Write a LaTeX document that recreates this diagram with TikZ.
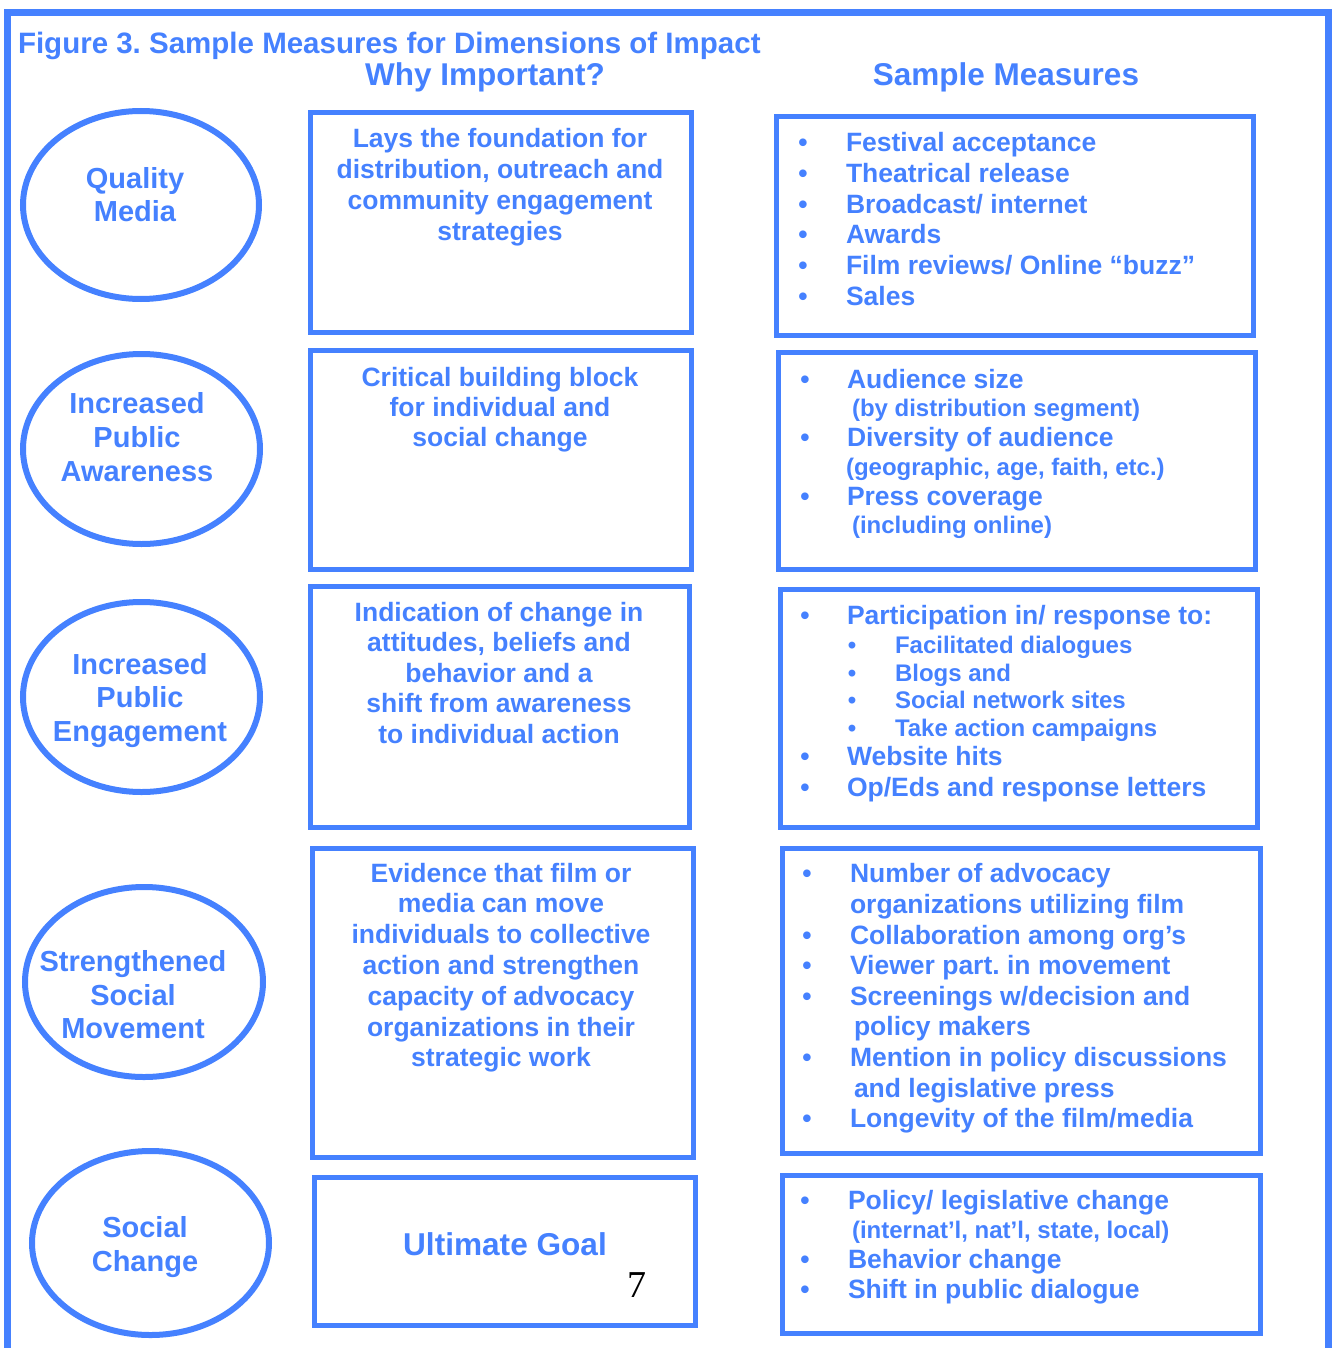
\documentclass[tikz,border=0pt]{standalone}
\usepackage{fontspec}
\setmainfont{Liberation Sans}
\newfontfamily\serifnum{Liberation Serif}
\usetikzlibrary{shapes.geometric}
\definecolor{mb}{RGB}{69,129,255}
\newcommand{\fsz}[1]{\fontsize{#1}{#1}\selectfont\bfseries}
\frenchspacing
\begin{document}
\begin{tikzpicture}[x=1pt,y=-1pt,
 ell/.style={draw=mb, line width=6pt, ellipse, inner sep=0pt, outer sep=0pt},
 box/.style={draw=mb, line width=5pt, rectangle, inner sep=0pt, outer sep=0pt},
 tx/.style={text=mb, inner sep=0pt, outer sep=0pt, anchor=base},
 big/.style={tx, font=\fsz{29}},
 mid/.style={tx, font=\fsz{26.5}},
 lt/.style={tx, anchor=base west, font=\fsz{26.5}},
 sm/.style={tx, anchor=base west, font=\fsz{24}},
 bu/.style={tx, font=\fsz{26.5}},
 sbu/.style={tx, font=\fsz{24}},
]
\useasboundingbox (0,0) rectangle (1332,1348);
% outer frame
\draw[mb, line width=7pt] (7,1352) -- (7,12.5) -- (1328.5,12.5) -- (1328.5,1352);

% headers
\node[tx, anchor=base west, font=\fsz{29.5}] (title) at (18,54) {Figure 3. Sample Measures for Dimensions of Impact};
\node[tx, font=\fsz{31.5}] (hwhy) at (485,86) {Why Important?};
\node[tx, font=\fsz{31.5}] (hsm) at (1006,86) {Sample Measures};

% ellipses
\node[ell, minimum width=236pt, minimum height=188pt] (e1) at (141,205) {};
\node[ell, minimum width=237pt, minimum height=190pt] (e2) at (141.5,449) {};
\node[ell, minimum width=237pt, minimum height=190pt] (e3) at (141.5,697) {};
\node[ell, minimum width=238pt, minimum height=190pt] (e4) at (144,982) {};
\node[ell, minimum width=237pt, minimum height=184pt] (e5) at (150.5,1243) {};

\node[big] (e1a) at (135,189) {Quality};
\node[big] (e1b) at (135,222) {Media};
\node[big] (e2a) at (137,413) {Increased};
\node[big] (e2b) at (137,447) {Public};
\node[big] (e2c) at (137,481) {Awareness};
\node[big] (e3a) at (140,674) {Increased};
\node[big] (e3b) at (140,707) {Public};
\node[big] (e3c) at (140,741) {Engagement};
\node[big] (e4a) at (133,971) {Strengthened};
\node[big] (e4b) at (133,1005) {Social};
\node[big] (e4c) at (133,1038) {Movement};
\node[big] (e5a) at (145,1237) {Social};
\node[big] (e5b) at (145,1271) {Change};

% middle boxes
\node[box, minimum width=381pt, minimum height=220pt] (m1) at (501,222.5) {};
\node[box, minimum width=381pt, minimum height=219pt] (m2) at (501,460) {};
\node[box, minimum width=379pt, minimum height=241pt] (m3) at (500,707) {};
\node[box, minimum width=381pt, minimum height=309pt] (m4) at (503,1003) {};
\node[box, minimum width=381pt, minimum height=148pt] (m5) at (505,1251.5) {};

\foreach \t [count=\i] in {Lays the foundation for, {distribution, outreach and}, community engagement, strategies}
  \node[mid] (ma\i) at (500,{148+30.7*(\i-1)}) {\t};
\foreach \t [count=\i] in {Critical building block, for individual and, social change}
  \node[mid] (mb\i) at (500,{386+30*(\i-1)}) {\t};
\foreach \t [count=\i] in {Indication of change in, {attitudes, beliefs and}, behavior and a, shift from awareness, to individual action}
  \node[mid] (mc\i) at (499,{621+30.6*(\i-1)}) {\t};
\foreach \t [count=\i] in {Evidence that film or, media can move, individuals to collective, action and strengthen, capacity of advocacy, organizations in their, strategic work}
  \node[mid] (md\i) at (501,{882+30.8*(\i-1)}) {\t};
\node[tx, font=\fsz{31.6}] (me1) at (505,1255) {Ultimate Goal};
\node[tx, text=black, font=\serifnum\fontsize{38}{38}\selectfont] (pg) at (637,1297) {7};

% right boxes
\node[box, minimum width=477pt, minimum height=219pt] (r1) at (1015,226) {};
\node[box, minimum width=477pt, minimum height=217pt] (r2) at (1017,461) {};
\node[box, minimum width=477pt, minimum height=238pt] (r3) at (1019,708.5) {};
\node[box, minimum width=478pt, minimum height=305pt] (r4) at (1021.5,1001) {};
\node[box, minimum width=478pt, minimum height=158pt] (r5) at (1021.5,1254.5) {};

\foreach \t [count=\i] in {Festival acceptance, Theatrical release, Broadcast/ internet, Awards, Film reviews/ Online “buzz”, Sales}
  {\node[bu] (ra\i) at (803,{152+30.6*(\i-1)}) {•};
   \node[lt] (rat\i) at (846,{152+30.6*(\i-1)}) {\t};}

\node[bu] (rb1) at (805,388) {•};
\node[lt] (rbt1) at (847,388) {Audience size};
\node[sm] (rbs1) at (852,416) {(by distribution segment)};
\node[bu] (rb2) at (805,446) {•};
\node[lt] (rbt2) at (847,446) {Diversity of audience};
\node[sm] (rbs2) at (846,475) {(geographic, age, faith, etc.)};
\node[bu] (rb3) at (805,505) {•};
\node[lt] (rbt3) at (847,505) {Press coverage};
\node[sm] (rbs3) at (852,533) {(including online)};

\node[bu] (rc1) at (805,624) {•};
\node[lt] (rct1) at (847,624) {Participation in/ response to:};
\foreach \t/\yy [count=\i] in {Facilitated dialogues/653, Blogs and/681, Social network sites/708, Take action campaigns/736}
  {\node[sbu] (rcs\i) at (852,\yy) {•};
   \node[sm] (rcst\i) at (895,\yy) {\t};}
\node[bu] (rc2) at (805,765) {•};
\node[lt] (rct2) at (847,765) {Website hits};
\node[bu] (rc3) at (805,796) {•};
\node[lt] (rct3) at (847,796) {Op/Eds and response letters};

\node[bu] (rd1) at (807,882) {•};
\node[lt] (rdt1) at (850,882) {Number of advocacy};
\node[lt] (rdt1b) at (850,913) {organizations utilizing film};
\node[bu] (rd2) at (807,944) {•};
\node[lt] (rdt2) at (850,944) {Collaboration among org’s};
\node[bu] (rd3) at (807,974) {•};
\node[lt] (rdt3) at (850,974) {Viewer part. in movement};
\node[bu] (rd4) at (807,1005) {•};
\node[lt] (rdt4) at (850,1005) {Screenings w/decision and};
\node[lt] (rdt4b) at (854,1035) {policy makers};
\node[bu] (rd5) at (807,1066) {•};
\node[lt] (rdt5) at (850,1066) {Mention in policy discussions};
\node[lt] (rdt5b) at (854,1097) {and legislative press};
\node[bu] (rd6) at (807,1127) {•};
\node[lt] (rdt6) at (850,1127) {Longevity of the film/media};

\node[bu] (re1) at (805,1209) {•};
\node[lt] (ret1) at (848,1209) {Policy/ legislative change};
\node[sm] (res1) at (852,1238) {(internat’l, nat’l, state, local)};
\node[bu] (re2) at (805,1268) {•};
\node[lt] (ret2) at (848,1268) {Behavior change};
\node[bu] (re3) at (805,1298) {•};
\node[lt] (ret3) at (848,1298) {Shift in public dialogue};
\end{tikzpicture}
\end{document}
